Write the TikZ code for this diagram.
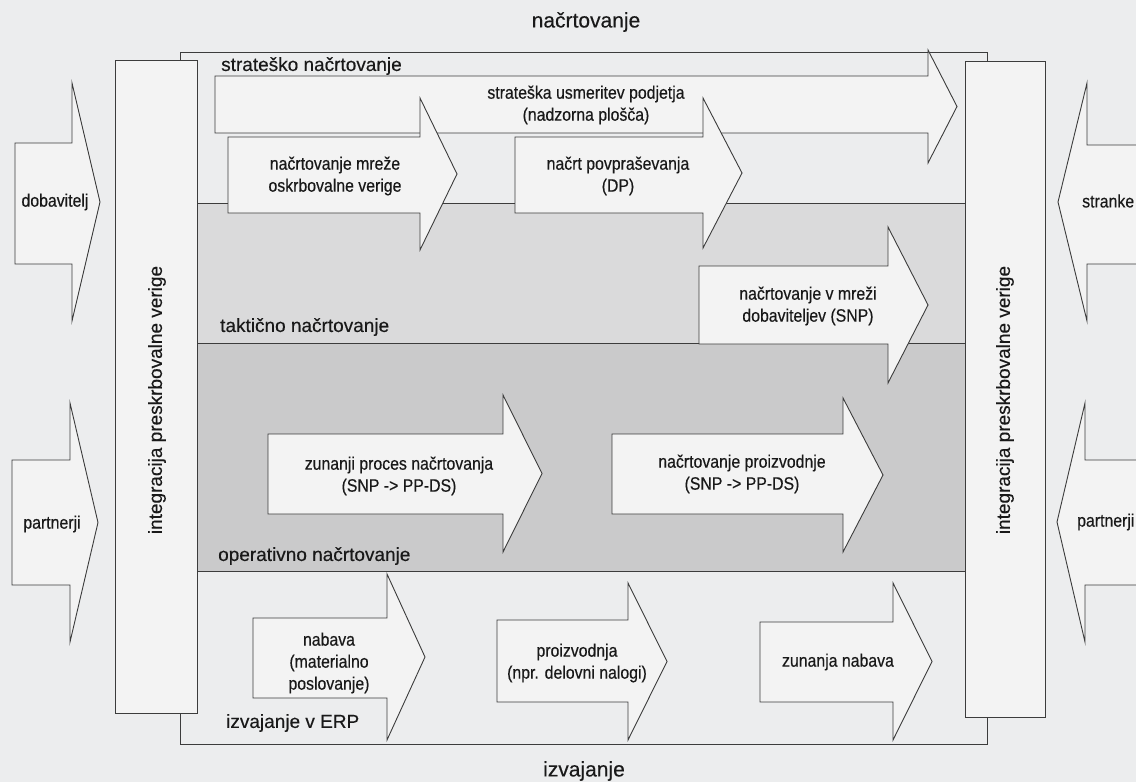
\documentclass[tikz,border=0pt]{standalone}
\usepackage{fontspec}
\setmainfont{Liberation Sans}[FakeBold=0.3]
\newfontfamily\condfont[FakeStretch=0.88,FakeBold=0.4]{Liberation Sans}
\definecolor{paper}{RGB}{236,237,238}
\definecolor{linec}{RGB}{60,60,60}
\definecolor{arrowfill}{RGB}{243,243,243}
\definecolor{strat}{RGB}{236,237,238}
\definecolor{takt}{RGB}{218,218,219}
\definecolor{oper}{RGB}{202,202,203}
\definecolor{exec}{RGB}{236,237,238}
\tikzset{
  arr/.style={draw=linec, fill=arrowfill, line width=0.9pt, line join=miter},
  frm/.style={draw=linec, line width=0.9pt},
  bandlbl/.style={anchor=west, inner sep=0pt, font=\fontsize{19}{22}\selectfont, text=black!90},
  biglbl/.style={inner sep=0pt, font=\fontsize{21}{24}\selectfont, text=black!90},
  albl/.style={inner sep=0pt, align=center, font=\condfont\fontsize{18}{22}\selectfont, text=black!90},
  barlbl/.style={inner sep=0pt, rotate=90, font=\fontsize{19}{22}\selectfont, text=black!90}
}
% right-pointing arrow: x0, head base x, tip x, body top, body bottom, head top, head bottom
\newcommand{\rarrow}[7]{%
  \path[arr] (#1,#4) -- (#2,#4) -- (#2,#6) -- (#3,{(#6+#7)/2}) -- (#2,#7) -- (#2,#5) -- (#1,#5) -- cycle;}
\begin{document}
\begin{tikzpicture}[x=1pt,y=-1pt]
\useasboundingbox (0,0) rectangle (1136,782);
\fill[paper] (0,0) rectangle (1136,782);
\clip (0,0) rectangle (1136,782);

% outer frame and bands
\path[frm, fill=strat] (180,52) rectangle (987,744);
\fill[takt] (180,203) rectangle (987,343);
\fill[oper] (180,343) rectangle (987,571);
\fill[exec] (180,571) rectangle (987,744);
\draw[frm] (180,52) rectangle (987,744);
\draw[frm] (180,203) -- (987,203);
\draw[frm] (180,343) -- (987,343);
\draw[frm] (180,571) -- (987,571);

% integration bars
\path[frm, fill=arrowfill] (115,60) rectangle (197,713);
\path[frm, fill=arrowfill] (965,61) rectangle (1045,717);
\node[barlbl] (intL) at (157,400) {integracija preskrbovalne verige};
\node[barlbl] (intR) at (1005,400) {integracija preskrbovalne verige};

% strategic
\rarrow{215}{928}{957}{76}{133}{50}{163}
\rarrow{228}{420}{457}{137}{213}{98}{250}
\rarrow{515}{703}{742}{137}{213}{98}{248}
% tactical
\rarrow{699}{888}{928}{266}{344}{227}{383}
% operative
\rarrow{268}{503}{542}{434}{514}{395}{552}
\rarrow{612}{843}{883}{434}{514}{398}{552}
% execution
\rarrow{253}{387}{425}{618}{698}{574}{740}
\rarrow{497}{628}{667}{620}{702}{583}{740}
\rarrow{760}{893}{932}{622}{702}{583}{740}
% external partners
\rarrow{15}{72}{100}{143}{264}{83}{321}
\rarrow{12}{70}{98}{460}{585}{403}{642}
\path[arr] (1150,145) -- (1087,145) -- (1087,83) -- (1058,202) -- (1087,321) -- (1087,264) -- (1150,264) -- cycle;
\path[arr] (1150,460) -- (1085,460) -- (1085,403) -- (1057,522) -- (1085,642) -- (1085,585) -- (1150,585) -- cycle;

% labels
\node[biglbl] (plan) at (586,22) {načrtovanje};
\node[biglbl] (exe) at (584,771) {izvajanje};
\node[bandlbl] (lstrat) at (221,66) {strateško načrtovanje};
\node[bandlbl] (ltakt) at (220,327) {taktično načrtovanje};
\node[bandlbl] (loper) at (218,556) {operativno načrtovanje};
\node[bandlbl] (lerp) at (226,723) {izvajanje v ERP};

\node[albl] (a1) at (586,105) {strateška usmeritev podjetja\\(nadzorna plošča)};
\node[albl] (a2) at (335,176) {načrtovanje mreže\\oskrbovalne verige};
\node[albl] (a3) at (618,176) {načrt povpraševanja\\(DP)};
\node[albl] (a4) at (808,306) {načrtovanje v mreži\\dobaviteljev (SNP)};
\node[albl] (a5) at (399,476) {zunanji proces načrtovanja\\(SNP -> PP-DS)};
\node[albl] (a6) at (742,474) {načrtovanje proizvodnje\\(SNP -> PP-DS)};
\node[albl] (a7) at (329,663) {nabava\\(materialno\\poslovanje)};
\node[albl] (a8) at (577,663) {proizvodnja\\(npr. delovni nalogi)};
\node[albl] (a9) at (838,662) {zunanja nabava};

\node[albl] (dob) at (55,202) {dobavitelj};
\node[albl] (parL) at (52,524) {partnerji};
\node[albl, anchor=west] (str) at (1082,201) {stranke};
\node[albl, anchor=west] (parR) at (1077,522) {partnerji};
\end{tikzpicture}
\end{document}
